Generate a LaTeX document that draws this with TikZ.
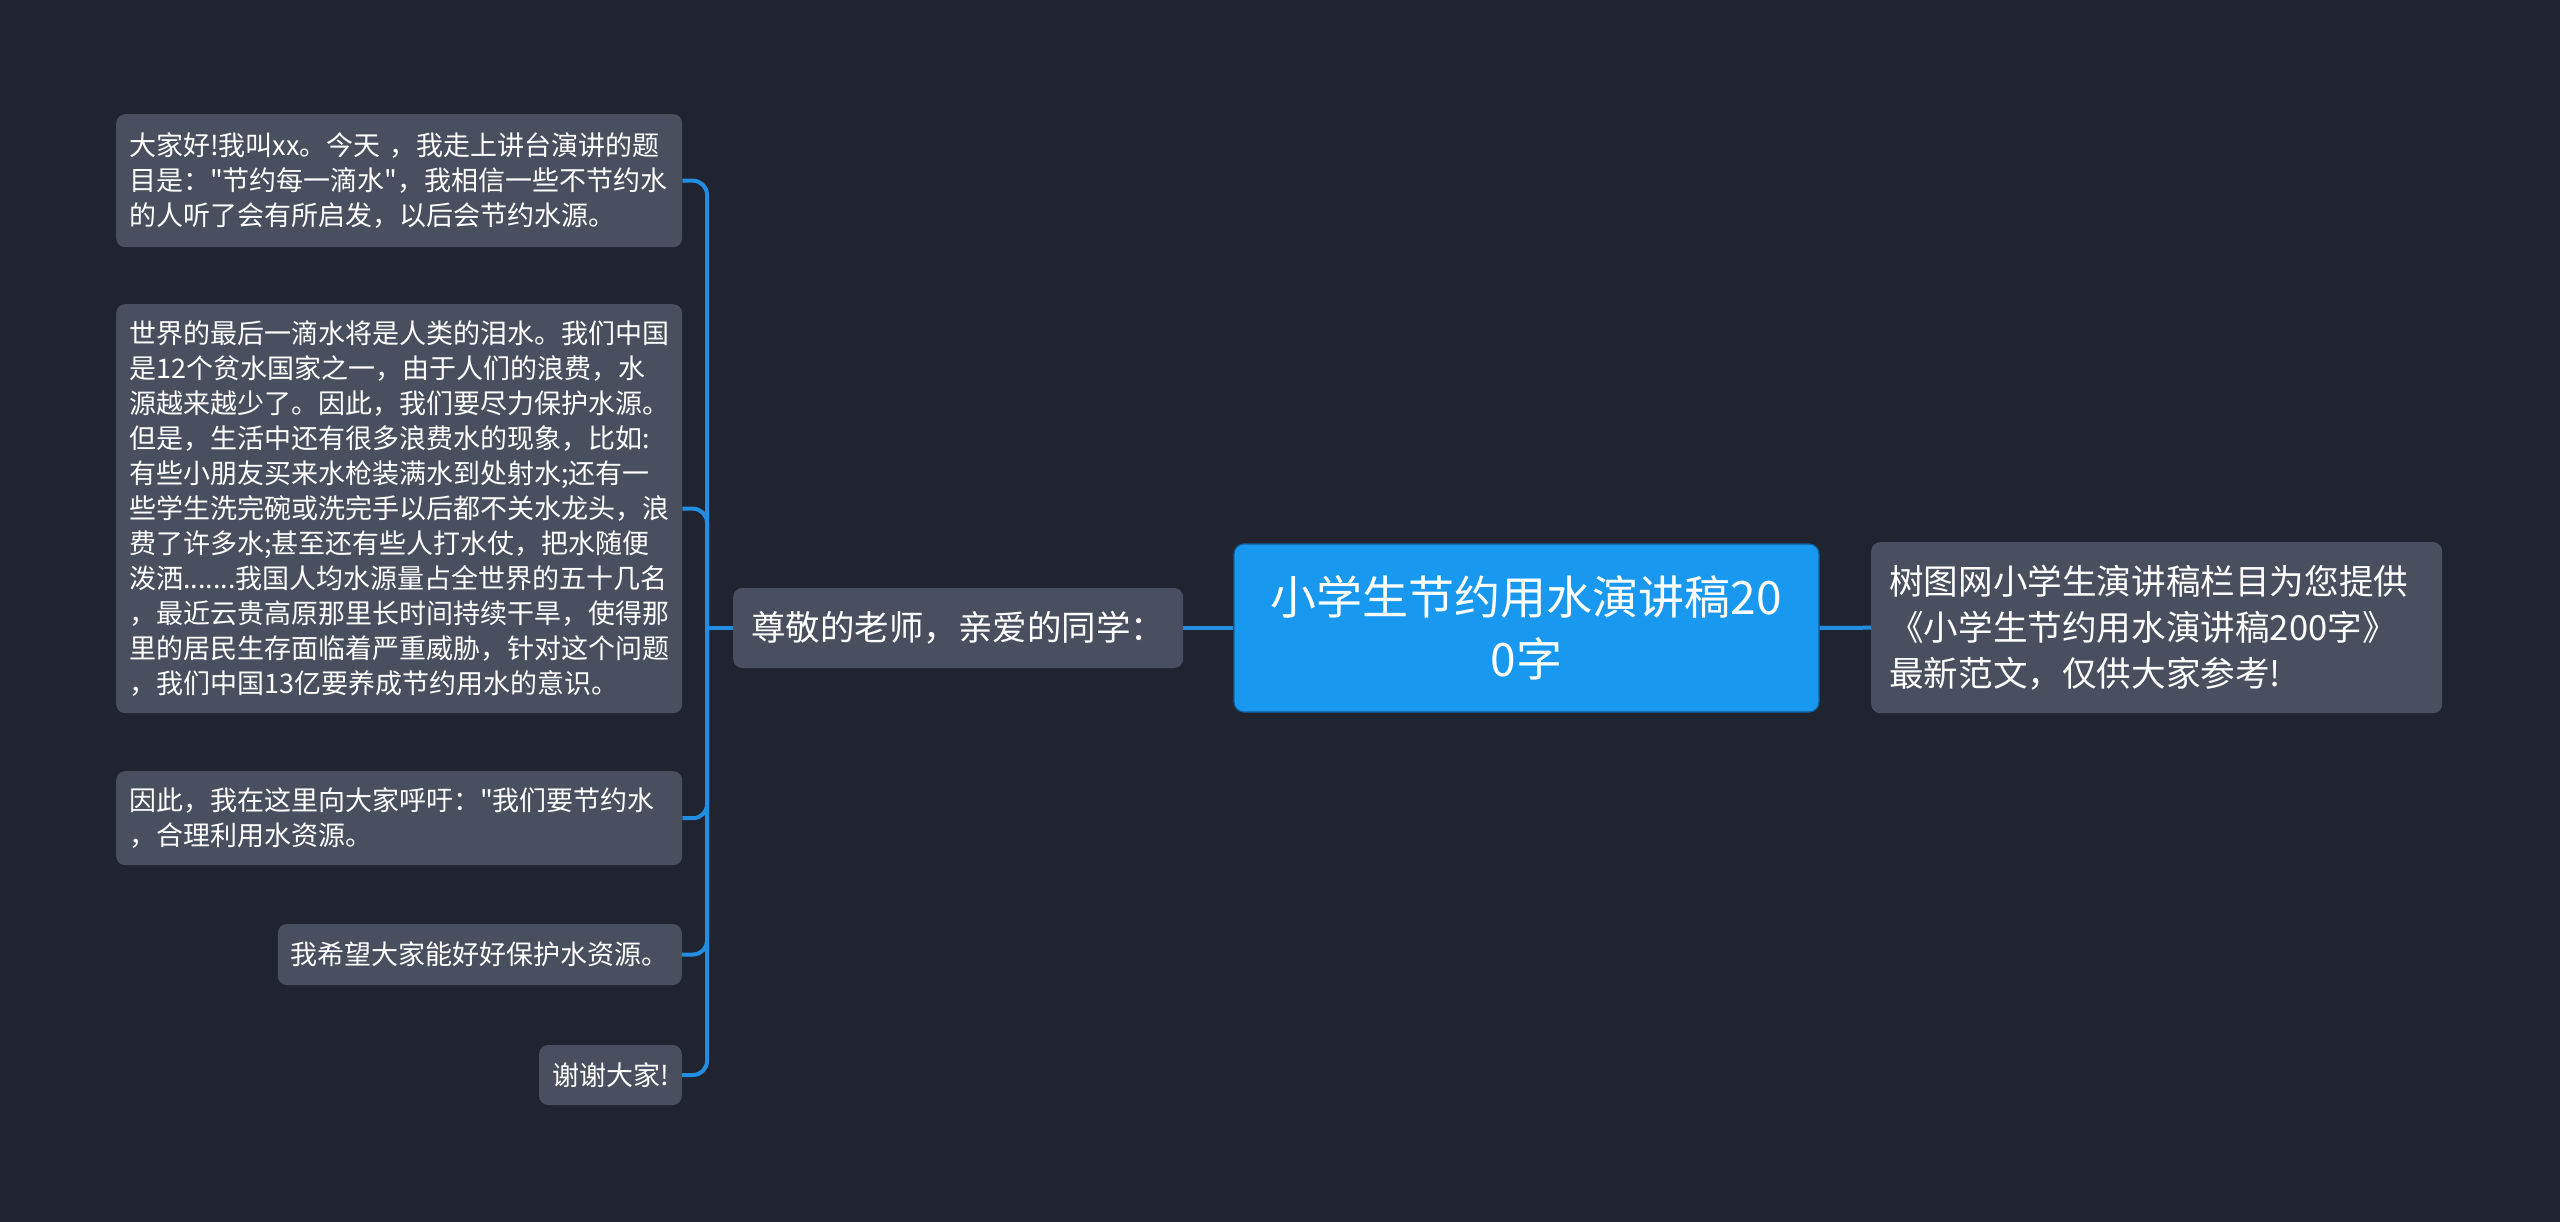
\documentclass[tikz,border=0pt]{standalone}
\usepackage{fontspec}
\setmainfont{Noto Sans CJK SC}[Ligatures=TeXOff]
\definecolor{bg}{RGB}{32,35,48}
\definecolor{leafc}{RGB}{73,79,94}
\definecolor{mainc}{RGB}{25,152,240}
\definecolor{mainb}{RGB}{18,95,160}
\definecolor{linec}{RGB}{33,142,226}
\begin{document}
\begin{tikzpicture}[x=1pt,y=-1pt,
  leaf/.style={rectangle, rounded corners=9pt, fill=leafc, text=white, align=left,
    inner xsep=13pt, inner ysep=0pt, font=\fontsize{27}{35}\selectfont},
  midbox/.style={rectangle, rounded corners=9pt, fill=leafc, text=white, align=left,
    inner xsep=18pt, inner ysep=0pt},
  mainbox/.style={rectangle, rounded corners=10pt, fill=mainc, draw=mainb, line width=1.2pt,
    text=white, align=center, inner sep=0pt, font=\fontsize{46}{62}\selectfont},
  conn/.style={draw=linec, line width=4pt, rounded corners=14pt}]
\fill[bg] (0,0) rectangle (2560,1222);
\useasboundingbox (0,0) rectangle (2560,1222);

\node[leaf, anchor=north west, text width=540pt, minimum height=133pt] (l1) at (116,114)
  {大家好!我叫xx。今天~，我走上讲台演讲的题\\目是："节约每一滴水"，我相信一些不节约水\\的人听了会有所启发，以后会节约水源。};
\node[leaf, anchor=north west, text width=540pt, minimum height=409pt] (l2) at (116,304)
  {世界的最后一滴水将是人类的泪水。我们中国\\是12个贫水国家之一，由于人们的浪费，水\\源越来越少了。因此，我们要尽力保护水源。\\但是，生活中还有很多浪费水的现象，比如:\\有些小朋友买来水枪装满水到处射水;还有一\\些学生洗完碗或洗完手以后都不关水龙头，浪\\费了许多水;甚至还有些人打水仗，把水随便\\泼洒.......我国人均水源量占全世界的五十几名\\，最近云贵高原那里长时间持续干旱，使得那\\里的居民生存面临着严重威胁，针对这个问题\\，我们中国13亿要养成节约用水的意识。};
\node[leaf, anchor=north west, text width=540pt, minimum height=94pt] (l3) at (116,771)
  {因此，我在这里向大家呼吁："我们要节约水\\，合理利用水资源。};
\node[leaf, anchor=east, minimum height=61pt] (l4) at (682,954.5)
  {我希望大家能好好保护水资源。};
\node[leaf, anchor=east, minimum height=60pt] (l5) at (682,1075)
  {谢谢大家!};

\node[midbox, anchor=west, minimum height=80pt, font=\fontsize{34.5}{45}\selectfont] (zun) at (733,628)
  {尊敬的老师，亲爱的同学：};
\node[mainbox, minimum width=585pt, minimum height=168pt] (main) at (1526.5,628)
  {小学生节约用水演讲稿20\\0字};
\node[midbox, anchor=north west, text width=535pt, minimum height=171pt,
  font=\fontsize{34.6}{45.7}\selectfont] (info) at (1871,542)
  {树图网小学生演讲稿栏目为您提供\\《小学生节约用水演讲稿200字》\\最新范文，仅供大家参考!};

\coordinate (tr) at (707,628);
\foreach \n in {l1,l2,l3,l4,l5} \draw[conn] (\n.east) -| (tr);
\draw[conn] (tr) -- (zun.west);
\draw[conn] (zun.east) -- (main.west);
\draw[conn] (main.east) -- (info.west);
\end{tikzpicture}
\end{document}
